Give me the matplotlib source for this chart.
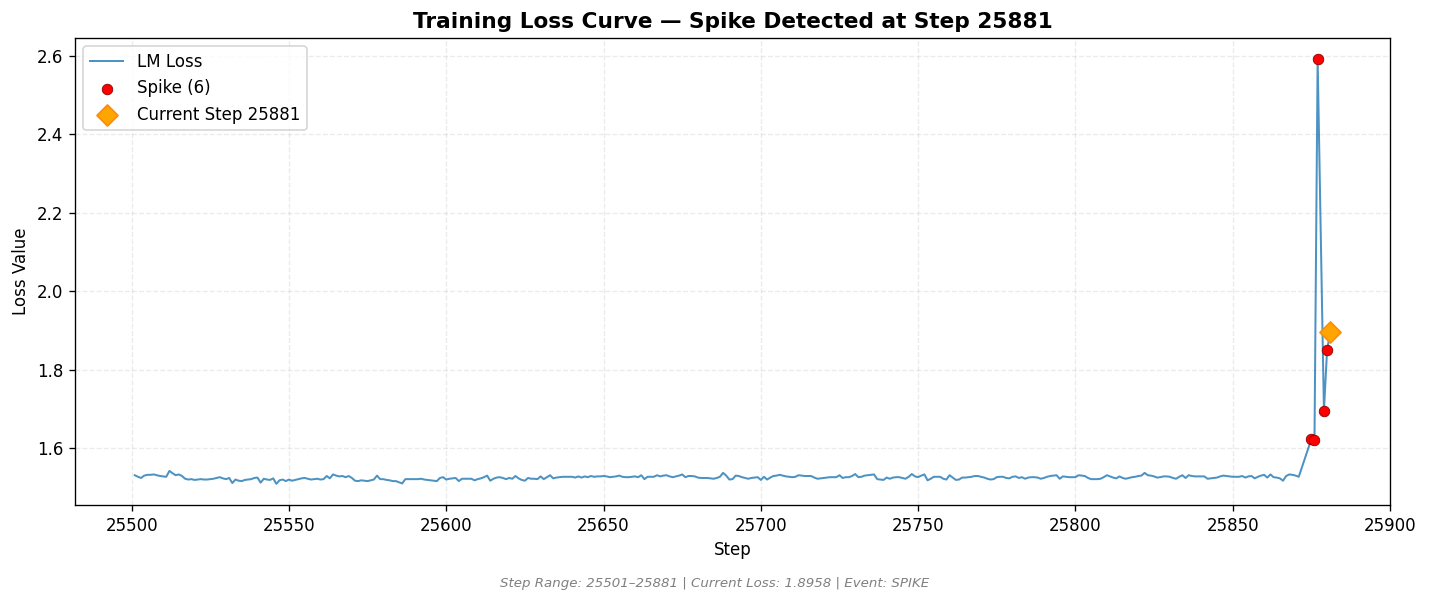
import matplotlib
matplotlib.use("Agg")
import matplotlib.pyplot as plt

# steps before the spike (25872-25874 and 25878 are not logged)
base_steps = list(range(25501, 25872))
base_loss = [
    1.531, 1.527, 1.524, 1.530, 1.532, 1.532, 1.533, 1.531, 1.529, 1.528,
    1.527, 1.542, 1.536, 1.531, 1.533, 1.529, 1.522, 1.520, 1.521, 1.519,
    1.520, 1.521, 1.520, 1.520, 1.521, 1.522, 1.524, 1.526, 1.523, 1.521,
    1.524, 1.511, 1.520, 1.517, 1.516, 1.519, 1.520, 1.521, 1.524, 1.525,
    1.512, 1.522, 1.520, 1.519, 1.523, 1.509, 1.518, 1.520, 1.516, 1.520,
    1.517, 1.519, 1.521, 1.523, 1.524, 1.522, 1.520, 1.521, 1.522, 1.520,
    1.521, 1.529, 1.523, 1.533, 1.530, 1.528, 1.529, 1.526, 1.529, 1.524,
    1.517, 1.516, 1.518, 1.517, 1.516, 1.518, 1.520, 1.530, 1.521, 1.521,
    1.519, 1.518, 1.516, 1.516, 1.513, 1.510, 1.521, 1.521, 1.521, 1.521,
    1.521, 1.522, 1.520, 1.519, 1.518, 1.517, 1.516, 1.524, 1.526, 1.520,
    1.522, 1.523, 1.524, 1.516, 1.522, 1.522, 1.522, 1.522, 1.518, 1.521,
    1.523, 1.526, 1.530, 1.517, 1.522, 1.525, 1.526, 1.524, 1.521, 1.524,
    1.522, 1.529, 1.523, 1.519, 1.517, 1.524, 1.522, 1.522, 1.521, 1.528,
    1.521, 1.526, 1.531, 1.523, 1.525, 1.526, 1.527, 1.527, 1.527, 1.527,
    1.525, 1.528, 1.525, 1.528, 1.526, 1.529, 1.527, 1.528, 1.528, 1.529,
    1.528, 1.526, 1.527, 1.528, 1.530, 1.527, 1.526, 1.526, 1.527, 1.528,
    1.526, 1.531, 1.521, 1.527, 1.527, 1.527, 1.531, 1.528, 1.530, 1.531,
    1.528, 1.526, 1.528, 1.530, 1.533, 1.526, 1.529, 1.529, 1.528, 1.525,
    1.524, 1.524, 1.524, 1.523, 1.522, 1.524, 1.527, 1.537, 1.530, 1.520,
    1.521, 1.530, 1.529, 1.526, 1.524, 1.522, 1.524, 1.525, 1.526, 1.519,
    1.527, 1.520, 1.525, 1.529, 1.530, 1.532, 1.530, 1.528, 1.527, 1.526,
    1.527, 1.531, 1.530, 1.529, 1.529, 1.529, 1.525, 1.522, 1.523, 1.524,
    1.525, 1.526, 1.526, 1.526, 1.531, 1.524, 1.526, 1.526, 1.529, 1.534,
    1.526, 1.527, 1.530, 1.531, 1.532, 1.533, 1.521, 1.520, 1.519, 1.525,
    1.522, 1.525, 1.526, 1.526, 1.524, 1.522, 1.527, 1.534, 1.528, 1.526,
    1.530, 1.533, 1.518, 1.522, 1.527, 1.527, 1.527, 1.522, 1.520, 1.531,
    1.525, 1.519, 1.520, 1.525, 1.525, 1.526, 1.527, 1.529, 1.529, 1.527,
    1.525, 1.522, 1.520, 1.521, 1.526, 1.527, 1.527, 1.524, 1.523, 1.527,
    1.528, 1.524, 1.526, 1.522, 1.525, 1.526, 1.526, 1.525, 1.522, 1.524,
    1.527, 1.529, 1.530, 1.531, 1.522, 1.528, 1.527, 1.526, 1.526, 1.526,
    1.531, 1.530, 1.529, 1.524, 1.521, 1.521, 1.521, 1.522, 1.526, 1.531,
    1.528, 1.525, 1.523, 1.528, 1.524, 1.522, 1.524, 1.526, 1.527, 1.529,
    1.530, 1.537, 1.531, 1.530, 1.528, 1.525, 1.526, 1.528, 1.528, 1.527,
    1.524, 1.522, 1.527, 1.531, 1.524, 1.531, 1.529, 1.528, 1.528, 1.528,
    1.528, 1.522, 1.523, 1.524, 1.525, 1.528, 1.530, 1.529, 1.528, 1.527,
    1.527, 1.527, 1.529, 1.525, 1.528, 1.529, 1.523, 1.527, 1.530, 1.532,
    1.525, 1.533, 1.526, 1.525, 1.523, 1.517, 1.529, 1.533, 1.532, 1.530,
    1.527,
]

spike_steps = [25875, 25876, 25877, 25879, 25880, 25881]
spike_loss = [1.623, 1.621, 2.592, 1.695, 1.850, 1.8958]

current_step = 25881
current_loss = 1.8958

steps = base_steps + spike_steps
loss = base_loss + spike_loss

fig = plt.figure(figsize=(1429 / 120, 602 / 120), dpi=120)
ax = fig.add_axes([0.0525, 0.161, 0.9202, 0.7759])

ax.plot(steps, loss, color='#1f77b4', alpha=0.8, linewidth=1.2, label='LM Loss')
ax.scatter(spike_steps, spike_loss, color='red', edgecolor='darkred', linewidth=0.5,
           s=40, zorder=5, label=f'Spike ({len(spike_steps)})')
ax.scatter([current_step], [current_loss], marker='D', color='orange', edgecolor='darkorange',
           s=80, zorder=6, label=f'Current Step {current_step}')

ax.set_title(f'Training Loss Curve \u2014 Spike Detected at Step {current_step}',
             fontsize=13, fontweight='bold')
ax.set_xlabel('Step')
ax.set_ylabel('Loss Value')
ax.grid(True, linestyle='--', alpha=0.25)
ax.legend(loc='upper left')

fig.text(0.5, 0.025,
         f'Step Range: {steps[0]}\u2013{steps[-1]} | Current Loss: {current_loss:.4f} | Event: SPIKE',
         ha='center', fontsize=8, style='italic', color='gray')

fig.savefig('out.png', dpi=120)
